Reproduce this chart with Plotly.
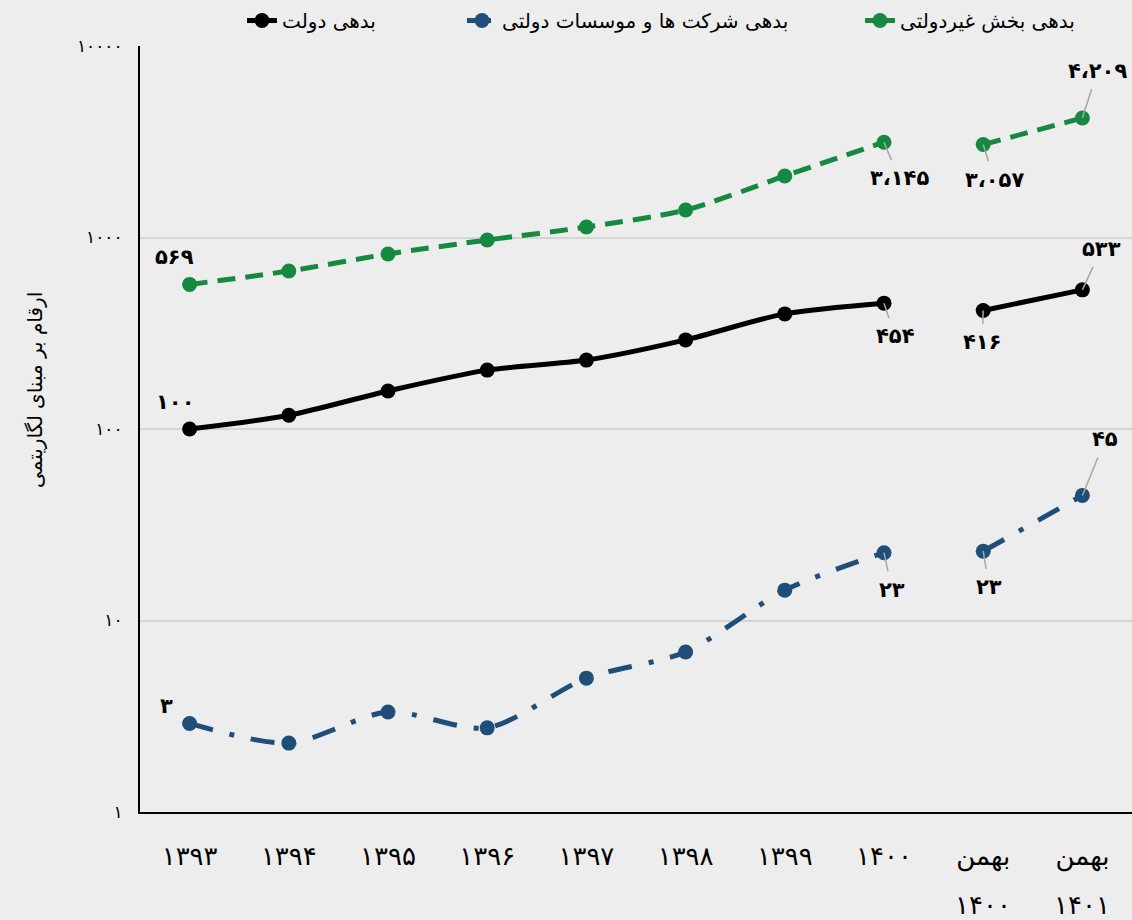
import math
import plotly.graph_objects as go

categories = ["1393", "1394", "1395", "1396", "1397", "1398", "1399", "1400", "B1400", "B1401"]
tick_labels = ["۱۳۹۳", "۱۳۹۴", "۱۳۹۵", "۱۳۹۶", "۱۳۹۷", "۱۳۹۸", "۱۳۹۹", "۱۴۰۰",
               "بهمن\n۱۴۰۰", "بهمن\n۱۴۰۱"]

gov_debt = [100, 118, 158, 203, 229, 292, 399, 454, 416, 533]
state_co_debt = [2.9, 2.29, 3.33, 2.75, 5.0, 6.85, 14.4, 22.6, 23, 45]
private_debt = [569, 668, 820, 970, 1135, 1392, 2095, 3145, 3057, 4209]

series_names = ["بدهی دولت", "بدهی شرکت ها و موسسات دولتی", "بدهی بخش غیردولتی"]
y_tickvals = [1, 10, 100, 1000, 10000]
y_ticktext = ["۱", "۱۰", "۱۰۰", "۱۰۰۰", "۱۰۰۰۰"]
y_title = "ارقام بر مبنای لگاریتمی"

FONT = "DejaVu Sans"
BG = "#ededed"
colors = ["#000000", "#1f4e79", "#15893f"]
dashes = ["solid", "24px,17px,5px,17px", "18px,10px"]
legend_dashes = ["solid", "24px,17px,5px,17px", "12px,6px"]
series = [gov_debt, state_co_debt, private_debt]
legend_ids = ["legend", "legend2", "legend3"]

fa_digits = str.maketrans("0123456789", "۰۱۲۳۴۵۶۷۸۹")


def fa(v):
    s = f"{int(round(v)):,}".replace(",", "،")
    return s.translate(fa_digits)


fig = go.Figure()
for name, vals, col, dash, ldash, lg in zip(series_names, series, colors, dashes,
                                            legend_dashes, legend_ids):
    line = dict(color=col, width=5, dash=dash, shape="spline", smoothing=0.8)
    fig.add_trace(go.Scatter(
        x=categories[:8], y=vals[:8], name=name, legendgroup=name, legend=lg,
        mode="lines+markers", line=line, marker=dict(size=15, color=col), showlegend=False))
    fig.add_trace(go.Scatter(
        x=categories[8:], y=vals[8:], name=name, legendgroup=name, legend=lg,
        mode="lines+markers", line=line, marker=dict(size=15, color=col), showlegend=False))
    # legend entry
    fig.add_trace(go.Scatter(
        x=[None], y=[None], name=name, legendgroup=name, legend=lg,
        mode="lines+markers", line=dict(color=col, width=5, dash=ldash),
        marker=dict(size=15, color=col), showlegend=True, hoverinfo="skip"))

# label offsets per series: (index, dx, dy, arrow)
label_specs = {
    0: [(0, -15, 27, False), (7, 11, 33, True), (8, -1, 32, True), (9, 19, -41, True)],
    1: [(0, -23, 17, False), (7, 8, 37, True), (8, 6, 36, True), (9, 23, -56, True)],
    2: [(0, -15, 27, False), (7, 15, 36, True), (8, 11, 35, True), (9, 15, -47, True)],
}
for si, vals in enumerate(series):
    for idx, dx, dy, arrow in label_specs[si]:
        common = dict(x=idx, y=math.log10(vals[idx]), xref="x", yref="y",
                      text="<b>" + fa(vals[idx]) + "</b>",
                      font=dict(family=FONT, size=21, color="#000000"))
        if arrow:
            fig.add_annotation(**common, showarrow=True, arrowhead=0, arrowwidth=1.5,
                               arrowcolor="#a6a6a6", ax=dx, ay=dy, standoff=0, startstandoff=5)
        else:
            fig.add_annotation(**common, showarrow=False, xshift=dx, yshift=dy)

# second line of two-line category labels
first_lines = []
for i, lab in enumerate(tick_labels):
    parts = lab.split("\n")
    first_lines.append(parts[0])
    if len(parts) > 1:
        fig.add_annotation(x=i, y=-0.1214, xref="x", yref="paper", text=parts[1],
                           showarrow=False, yanchor="middle",
                           font=dict(family=FONT, size=26, color="#000000"))

fig.add_annotation(text=y_title, xref="paper", yref="paper", x=-0.1058, y=0.551,
                   xanchor="center", yanchor="middle",
                   showarrow=False, textangle=-90,
                   font=dict(family=FONT, size=20, color="#000000"))

legend_common = dict(orientation="h", yanchor="top", y=1.0587, xanchor="left",
                     font=dict(family=FONT, size=20, color="#000000"),
                     bgcolor="rgba(0,0,0,0)")
fig.update_layout(
    width=1132, height=920,
    margin=dict(l=140, r=0, t=46, b=108),
    paper_bgcolor=BG, plot_bgcolor=BG,
    font=dict(family=FONT, color="#000000"),
    showlegend=True,
    legend=dict(**legend_common, x=(242 - 140) / 992),
    legend2=dict(**legend_common, x=(462 - 140) / 992),
    legend3=dict(**legend_common, x=(860 - 140) / 992),
)
fig.update_xaxes(type="category", categoryorder="array", categoryarray=categories,
                 tickvals=categories, ticktext=first_lines,
                 showline=True, linecolor="#000000", linewidth=2, showgrid=False,
                 ticks="", tickfont=dict(family=FONT, size=26), ticklabelstandoff=20,
                 range=[-0.5, 9.5])
fig.update_yaxes(type="log", range=[0, 4], tickvals=y_tickvals, ticktext=y_ticktext,
                 showline=True, linecolor="#000000", linewidth=2,
                 showgrid=True, gridcolor="#d4d4d4", gridwidth=1.5,
                 ticks="", tickfont=dict(family=FONT, size=17), ticklabelstandoff=12,
                 zeroline=False)

fig.write_html("out.html", config={"displayModeBar": False},
               post_script="document.body.style.margin='0';document.body.style.padding='0';"
                           "document.body.style.overflow='hidden';")
